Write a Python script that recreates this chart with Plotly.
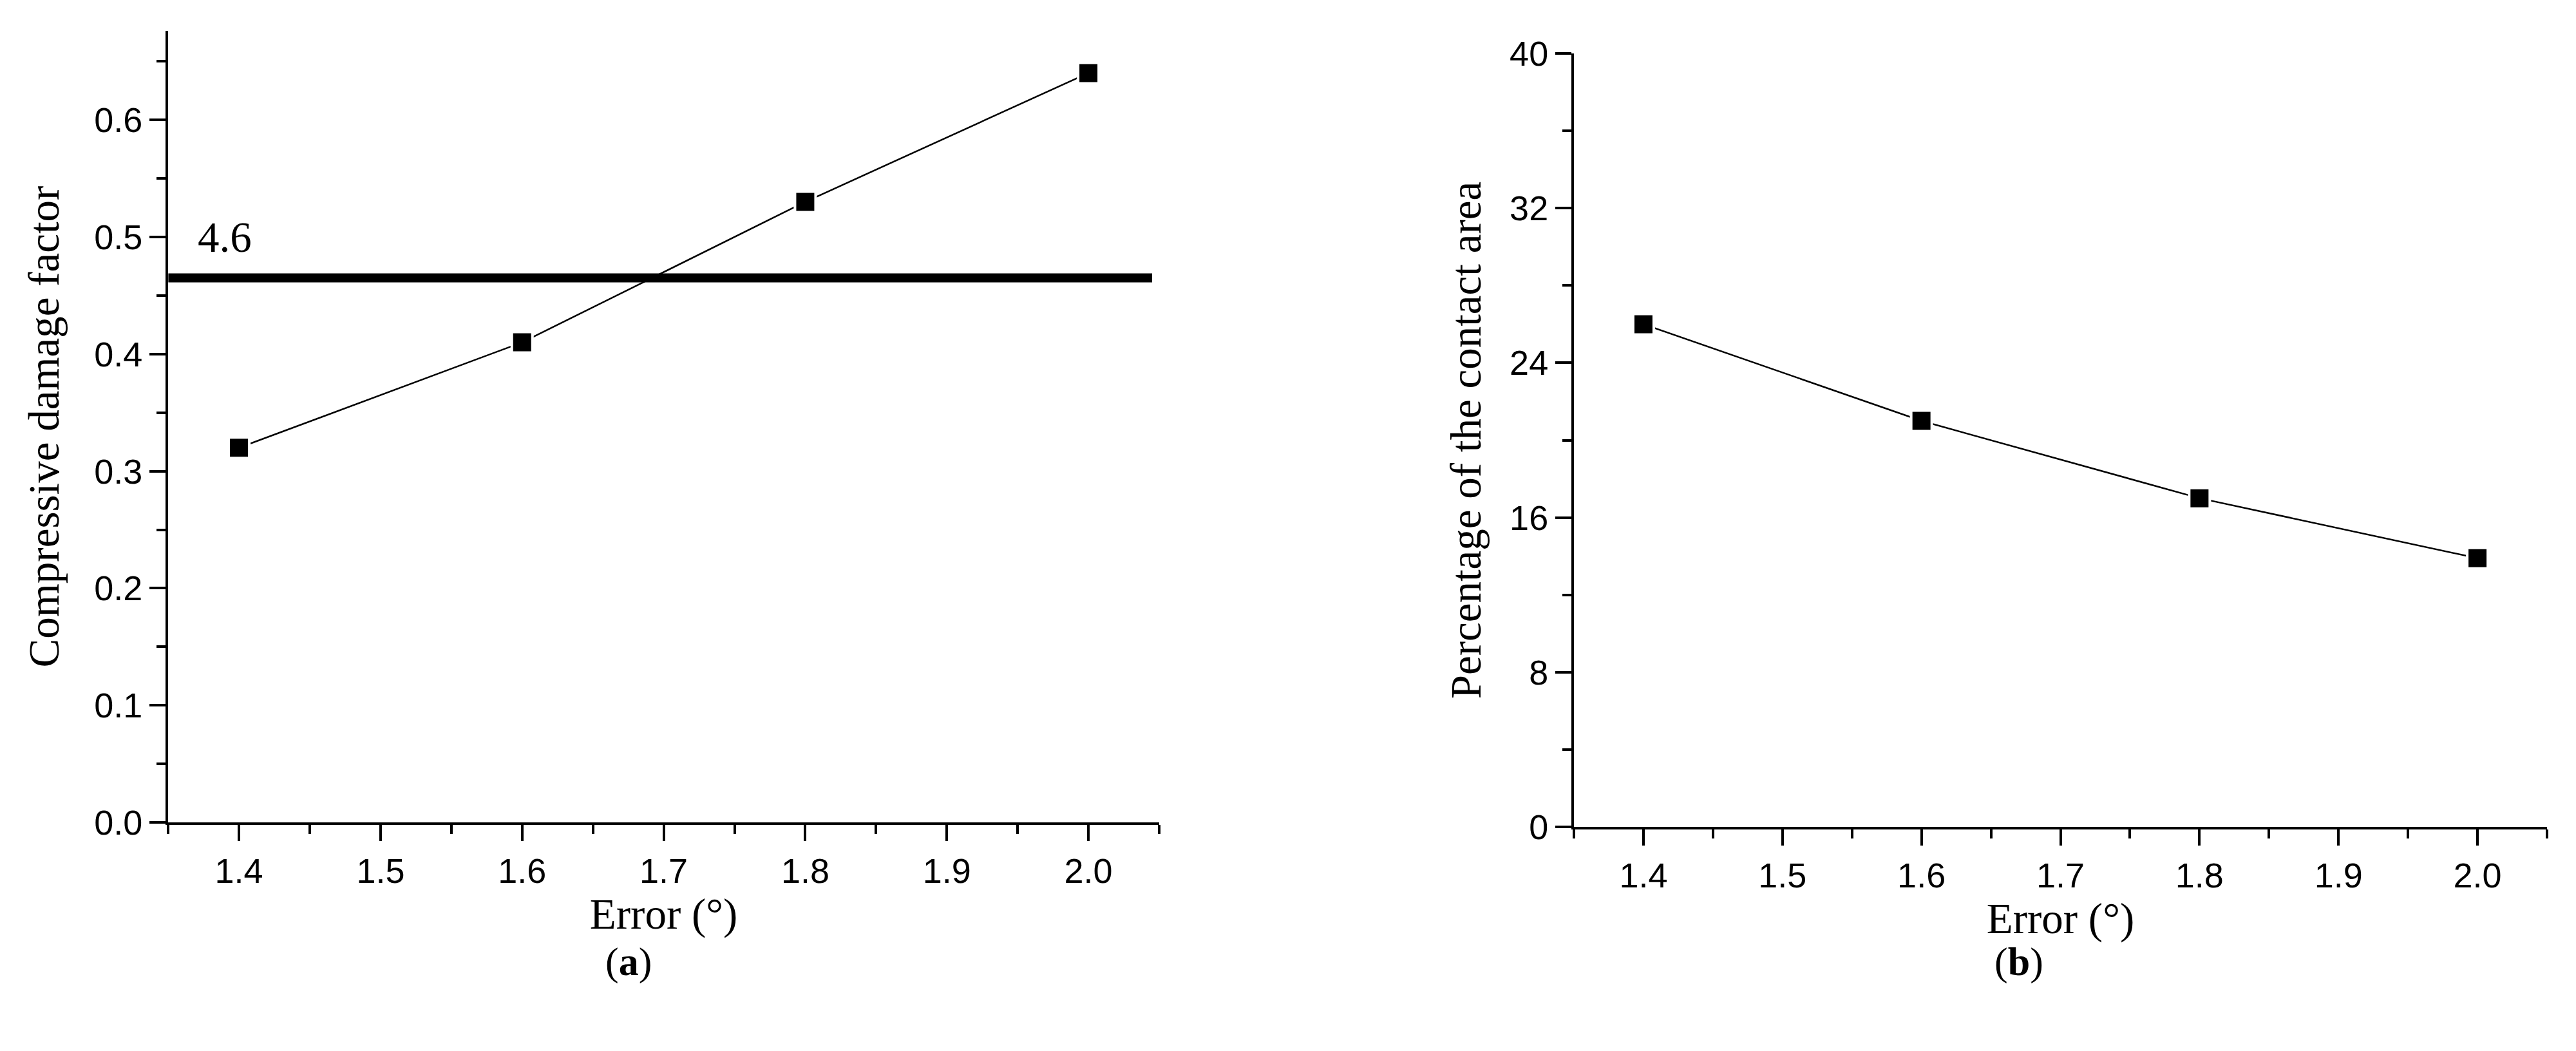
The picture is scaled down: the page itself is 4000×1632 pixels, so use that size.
import plotly.graph_objects as go

# data
error_deg = [1.4, 1.6, 1.8, 2.0]
damage_factor = [0.32, 0.41, 0.53, 0.64]
contact_pct = [26.0, 21.0, 17.0, 13.9]

threshold_value = 0.465
threshold_span = [1.35, 2.045]
threshold_label = "4.6"

tick_font = dict(family="Liberation Sans Narrow, Liberation Sans, Arial", size=54, color="black")
title_font = dict(family="Liberation Serif, Times New Roman", size=67, color="black")


def axis_style(**kw):
    d = dict(showline=True, linecolor="black", linewidth=4, ticks="outside",
             ticklen=25, tickwidth=4, tickcolor="black", showgrid=False,
             zeroline=False, tickfont=tick_font, title_font=title_font,
             automargin=False)
    d.update(kw)
    return d


def minor(step, start):
    return dict(ticks="outside", ticklen=14, tickwidth=4, tickcolor="black",
                dtick=step, tick0=start, showgrid=False)


fig = go.Figure()

# threshold line (a)
fig.add_trace(go.Scatter(x=threshold_span, y=[threshold_value] * len(threshold_span),
                         mode="lines", line=dict(color="black", width=14),
                         xaxis="x", yaxis="y", hoverinfo="skip"))

marker_style = dict(symbol="square", size=32, color="black", line=dict(color="white", width=4))

fig.add_trace(go.Scatter(x=error_deg, y=damage_factor, mode="lines+markers",
                         line=dict(color="black", width=2.5), marker=marker_style,
                         xaxis="x", yaxis="y"))
fig.add_trace(go.Scatter(x=error_deg, y=contact_pct, mode="lines+markers",
                         line=dict(color="black", width=2.5), marker=marker_style,
                         xaxis="x2", yaxis="y2"))

fig.update_layout(
    width=4000, height=1632,
    margin=dict(l=0, r=0, t=0, b=0),
    paper_bgcolor="white", plot_bgcolor="white",
    showlegend=False,
    xaxis=axis_style(domain=[0.0633, 0.448], anchor="y", range=[1.35, 2.05],
                     tick0=1.4, dtick=0.1, tickformat=".1f", minor=minor(0.05, 1.35),
                     title=dict(text="Error (°)", standoff=14)),
    yaxis=axis_style(domain=[0.2224, 0.9755], anchor="x", range=[0, 0.676],
                     tick0=0, dtick=0.1, tickformat=".1f", minor=minor(0.05, 0),
                     title=dict(text="Compressive damage factor", standoff=34)),
    xaxis2=axis_style(domain=[0.609, 0.98675], anchor="y2", range=[1.35, 2.05],
                      tick0=1.4, dtick=0.1, tickformat=".1f", minor=minor(0.05, 1.35),
                      title=dict(text="Error (°)", standoff=14)),
    yaxis2=axis_style(domain=[0.2181, 0.954], anchor="x2", range=[0, 40],
                      tick0=0, dtick=8, minor=minor(4, 0),
                      title=dict(text="Percentage of the contact area", standoff=24)),
)

fig.add_annotation(x=1.39, y=0.5, xref="x", yref="y", text=threshold_label,
                   showarrow=False, font=title_font)

cap_font = dict(family="Liberation Serif, Times New Roman", size=62, color="black")
fig.add_annotation(x=0.2325, y=0.09, xref="paper", yref="paper", text="(<b>a</b>)",
                   showarrow=False, font=cap_font, yanchor="middle")
fig.add_annotation(x=0.7918, y=0.09, xref="paper", yref="paper", text="(<b>b</b>)",
                   showarrow=False, font=cap_font, yanchor="middle")

fig.write_html("out.html")
